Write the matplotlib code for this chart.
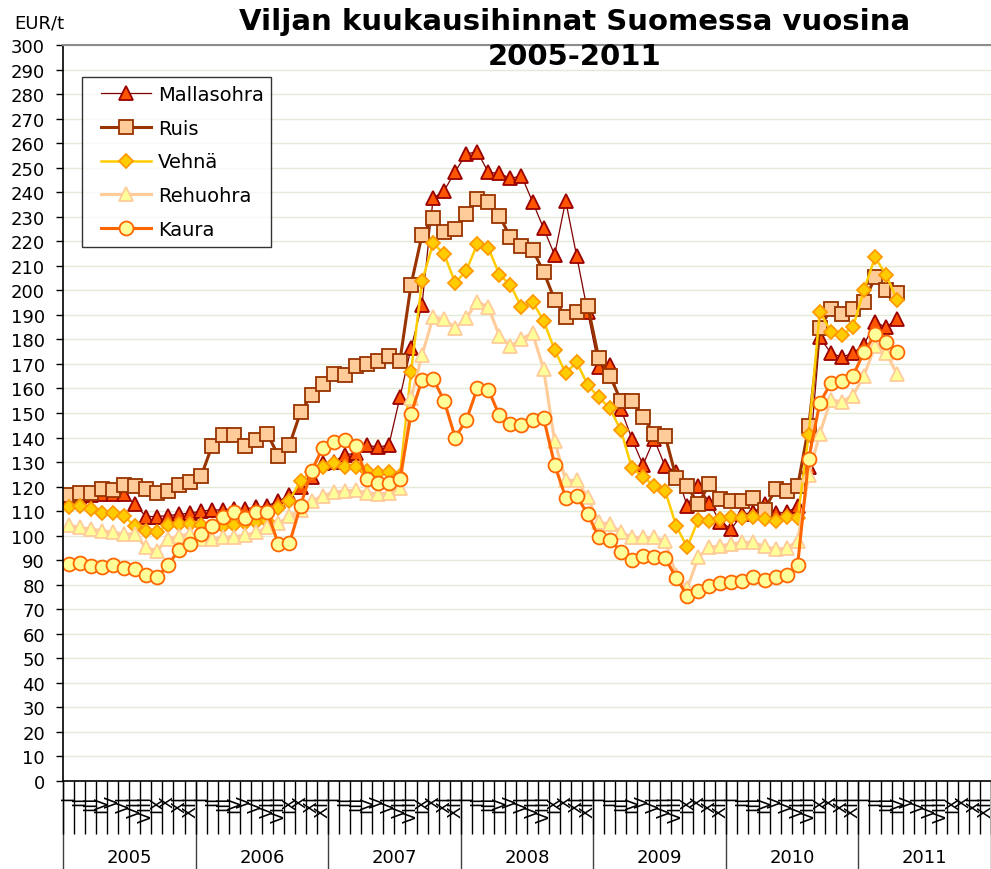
import matplotlib
matplotlib.use("Agg")
import matplotlib.pyplot as plt
from matplotlib.legend_handler import HandlerLine2D
import numpy as np

plt.rcParams['font.family'] = ['DejaVu Sans']

# ---------------- data ----------------
years = ["2005", "2006", "2007", "2008", "2009", "2010", "2011"]
month_labels = ["I", "II", "III", "IV", "V", "VI", "VII", "VIII", "IX", "X", "XI", "XII"]

mallasohra = [115.5, 116.0, 116.5, 117.0, 117.0, 117.0, 112.9, 107.8, 107.8, 108.2, 108.7, 109.2,
              110.0, 110.5, 110.5, 111.0, 111.0, 111.5, 112.2, 114.0, 116.6, 119.7, 123.8, 129.6,
              130.0, 133.0, 133.5, 137.0, 136.0, 137.0, 156.4, 176.4, 194.2, 237.5, 240.6, 248.4,
              255.6, 256.5, 248.1, 247.7, 245.6, 246.7, 236.1, 225.3, 214.4, 236.5, 213.9, 191.0,
              168.6, 169.6, 151.6, 139.4, 128.8, 139.4, 128.3, 126.1, 112.0, 120.4, 113.5, 105.4,
              102.9, 108.8, 109.5, 112.9, 109.2, 109.5, 112.0, 127.9, 180.8, 174.5, 172.7, 174.5,
              177.7, 187.2, 184.9, 188.3]
ruis = [116.6, 117.3, 117.3, 119.0, 118.7, 120.7, 120.1, 119.0, 117.4, 118.3, 120.7, 121.8,
        124.2, 136.7, 141.0, 141.0, 136.7, 139.1, 141.4, 132.6, 137.0, 150.3, 157.5, 162.0,
        166.0, 165.5, 169.0, 170.0, 171.0, 173.4, 171.3, 202.2, 222.6, 229.3, 223.6, 225.2,
        231.1, 237.2, 236.1, 230.4, 221.6, 218.2, 216.6, 207.6, 196.2, 189.0, 191.3, 193.7,
        172.3, 165.2, 155.0, 155.0, 148.5, 141.4, 140.8, 123.7, 120.1, 112.9, 121.1, 114.9,
        114.3, 114.3, 115.2, 110.6, 119.0, 118.1, 120.1, 144.5, 184.5, 192.4, 190.4, 192.4,
        195.1, 205.3, 200.1, 198.8]
vehna = [111.5, 112.0, 110.9, 109.2, 109.1, 108.2, 103.8, 102.0, 101.6, 104.3, 104.8, 104.8,
         104.5, 103.5, 104.0, 104.5, 105.0, 105.5, 106.0, 111.2, 114.3, 122.4, 125.8, 128.0,
         129.5, 128.0, 128.0, 126.5, 125.5, 126.0, 124.5, 166.6, 203.7, 219.2, 214.8, 203.0,
         208.0, 218.9, 217.3, 206.4, 202.2, 193.1, 195.4, 187.6, 175.7, 166.3, 170.7, 161.4,
         156.4, 151.9, 142.9, 127.5, 124.0, 120.4, 118.3, 104.1, 95.3, 106.5, 106.1, 106.8,
         107.5, 107.1, 107.7, 106.8, 106.1, 107.7, 107.1, 141.2, 191.3, 183.2, 181.8, 184.9,
         200.1, 213.5, 206.3, 196.1]
rehuohra = [104.3, 103.4, 102.7, 102.0, 101.4, 100.7, 100.7, 95.2, 93.9, 98.6, 100.0, 100.7,
            98.6, 98.6, 99.3, 99.6, 100.2, 101.4, 103.4, 105.0, 108.0, 110.5, 114.0, 116.3,
            117.7, 118.3, 118.5, 117.5, 117.0, 117.5, 119.3, 156.0, 173.6, 189.0, 188.3, 184.5,
            188.6, 195.4, 193.1, 181.5, 177.2, 180.2, 182.6, 167.9, 138.7, 122.5, 122.5, 115.6,
            105.4, 104.8, 101.4, 99.3, 99.3, 99.3, 97.9, 84.0, 78.5, 91.2, 95.3, 95.9,
            96.6, 97.3, 97.3, 95.6, 94.6, 94.8, 97.9, 124.7, 141.6, 155.3, 154.6, 157.1,
            165.2, 177.2, 174.5, 165.9]
kaura = [88.5, 88.7, 87.8, 87.1, 88.0, 86.9, 86.5, 84.0, 83.0, 88.0, 94.2, 96.6,
         100.7, 104.1, 107.5, 109.8, 107.0, 109.5, 109.5, 96.6, 96.9, 112.2, 126.4, 135.7,
         138.0, 139.1, 136.7, 123.1, 121.3, 121.3, 123.1, 149.6, 163.5, 164.0, 155.0, 140.0,
         147.0, 160.0, 159.5, 149.0, 145.5, 145.0, 147.0, 148.0, 129.0, 115.5, 116.0, 108.8,
         99.3, 98.4, 93.5, 90.2, 91.6, 91.2, 90.8, 82.9, 75.5, 77.6, 79.6, 80.7,
         81.2, 81.4, 83.0, 82.1, 83.0, 84.0, 88.2, 131.3, 154.1, 162.1, 163.2, 165.2,
         174.7, 182.0, 179.0, 175.0]

series_names = ["Mallasohra", "Ruis", "Vehnä", "Rehuohra", "Kaura"]

# ---------------- styling ----------------
styles = {
    "Mallasohra": dict(color="#800000", lw=0.9, marker="^", ms=10, mfc="#FF5500", mec="#990000", mew=1.3),
    "Ruis": dict(color="#993300", lw=2.2, marker="s", ms=9.5, mfc="#FFCC99", mec="#993300", mew=1.3),
    "Vehnä": dict(color="#FFCC00", lw=1.8, marker="D", ms=7.5, mfc="#FFCC00", mec="#FF9900", mew=1.3),
    "Rehuohra": dict(color="#FFCC99", lw=2.2, marker="^", ms=10, mfc="#FFFF99", mec="#FFCC99", mew=1.3),
    "Kaura": dict(color="#FF6600", lw=2.2, marker="o", ms=10, mfc="#FFFF99", mec="#FF6600", mew=1.3),
}
data = {"Mallasohra": mallasohra, "Ruis": ruis, "Vehnä": vehna, "Rehuohra": rehuohra, "Kaura": kaura}


class ShiftedLineHandler(HandlerLine2D):
    """Legend line handle shifted right by a fixed number of points."""
    def __init__(self, shift_pt=8, **kw):
        super().__init__(**kw)
        self.shift_pt = shift_pt

    def create_artists(self, legend, orig_handle, xdescent, ydescent, width, height, fontsize, trans):
        s = legend.figure.dpi / 72 * self.shift_pt if False else self.shift_pt
        return super().create_artists(legend, orig_handle, xdescent - s, ydescent, width - s,
                                      height, fontsize, trans)


W, H = 991, 870
fig = plt.figure(figsize=(W / 100, H / 100), dpi=100)
ax_l, ax_r, ax_t, ax_b = 63, 991, 46, 782
ax = fig.add_axes([ax_l / W, 1 - ax_b / H, (ax_r - ax_l) / W, (ax_b - ax_t) / H])

n_months = len(years) * 12
lines = []
for name in series_names:
    vals = data[name]
    x = np.arange(len(vals)) + 0.5
    ln, = ax.plot(x, vals, label=name, **styles[name])
    lines.append(ln)

ax.set_xlim(0, n_months)
ax.set_ylim(0, 300)
ax.set_yticks(np.arange(0, 301, 10))
ax.yaxis.grid(True, color="#E3EAD6", lw=1.0)
ax.set_axisbelow(True)
ax.tick_params(axis="y", labelsize=13, length=5, width=1, pad=8, colors="black")

# month labels + month boundary ticks
ax.set_xticks(np.arange(n_months) + 0.5)
ax.set_xticklabels(month_labels * len(years), rotation=90, fontsize=12.5)
ax.tick_params(axis="x", which="major", length=0, pad=10)
ax.set_xticks(np.arange(n_months + 1), minor=True)
ax.tick_params(axis="x", which="minor", length=38, width=1, color="black")

# year separators and labels
sec = ax.secondary_xaxis("bottom")
sec.set_xticks(np.arange(0, n_months + 1, 12))
sec.set_xticklabels([""] * (len(years) + 1))
sec.tick_params(which="major", length=64, width=1, color="#404040")
sec.set_xticks(np.arange(6, n_months, 12), minor=True)
sec.set_xticklabels(years, minor=True, fontsize=13)
sec.tick_params(which="minor", length=0, pad=48)
sec.spines["bottom"].set_visible(False)

for s in ["left", "bottom"]:
    ax.spines[s].set_color("black")
    ax.spines[s].set_linewidth(1.2)
ax.spines["top"].set_color("#8C8C8C")
ax.spines["top"].set_linewidth(1.5)
ax.spines["right"].set_visible(False)

handler = ShiftedLineHandler(shift_pt=8)
leg = ax.legend(handles=lines, loc="upper left",
                bbox_to_anchor=((82 - ax_l) / (ax_r - ax_l), (ax_b - 78) / (ax_b - ax_t)),
                borderaxespad=0, fontsize=14, frameon=True, fancybox=False, shadow=False,
                handlelength=3.15, handletextpad=0.35, labelspacing=0.76, borderpad=0.4,
                handler_map={ln: handler for ln in lines})
leg.get_frame().set_edgecolor("black")
leg.get_frame().set_linewidth(1.0)

fig.text(575 / W, 1 - 22 / H, "Viljan kuukausihinnat Suomessa vuosina", ha="center", va="center",
         fontsize=21, fontweight="bold")
fig.text(575 / W, 1 - 57 / H, "2005-2011", ha="center", va="center", fontsize=21, fontweight="bold")
fig.text(14 / W, 1 - 23 / H, "EUR/t", ha="left", va="center", fontsize=13)

fig.savefig("out.png", dpi=100)
